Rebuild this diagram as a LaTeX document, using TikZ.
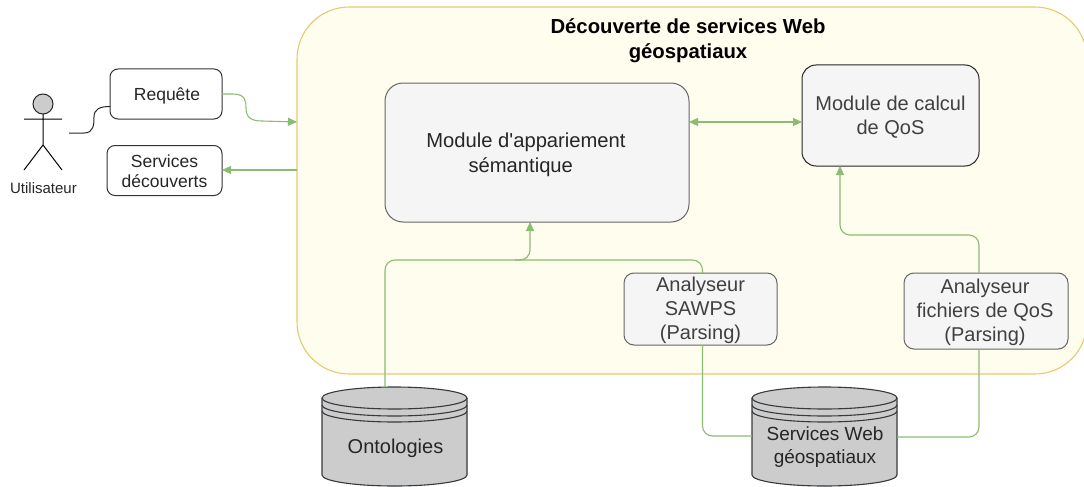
\documentclass[tikz,border=0pt]{standalone}
\usepackage{fontspec}
\setmainfont{Liberation Sans}
\newfontfamily\plainsans{Liberation Sans}
\usetikzlibrary{arrows.meta,calc}
\definecolor{grn}{HTML}{8CBB72}
\definecolor{ylwf}{HTML}{FFFDEE}
\definecolor{ylwd}{HTML}{E8C970}
\definecolor{gryf}{HTML}{F5F5F5}
\definecolor{gryd}{HTML}{666666}
\definecolor{cylf}{HTML}{CCCCCC}
\definecolor{cyld}{HTML}{36393D}
\definecolor{txt}{HTML}{404040}
\newcommand{\fsz}[2]{\fontsize{#1}{#2}\selectfont}
\tikzset{
  every node/.style={inner sep=0pt,outer sep=0pt},
  boxwhite/.style={draw=black!80,line width=1pt,fill=white,rounded corners=8pt,align=center,font=\fsz{17.5}{20},text=black!85},
  boxgray/.style={draw=gryd,line width=1pt,fill=gryf},
  boxtext/.style={align=center,font=\fsz{20}{24},text=txt},
  link/.style={draw=grn,line width=1.1pt,rounded corners=10pt},
  tip/.style={-{Triangle[length=9pt,width=8pt]}},
  tips/.style={{Triangle[length=9pt,width=8pt]}-{Triangle[length=9pt,width=8pt]}},
  cylbody/.style={draw=cyld,line width=1.1pt,fill=cylf},
  cyltext/.style={align=center,text=black!85},
  actorline/.style={draw=black,line width=1pt},
}
\begin{document}
\begin{tikzpicture}[x=1pt,y=-1pt]
\useasboundingbox (0,0) rectangle (1084,487);
% container
\node[draw=ylwd,line width=1.1pt,fill=ylwf,rounded corners=52pt,minimum width=790pt,minimum height=367pt] (disc) at (692,190.5) {};
\node[font=\bfseries\fsz{20.3}{25},align=center,text=black] (title) at (688,41) {Découverte de services Web\\géospatiaux};
% boxes
\node[boxwhite,minimum width=112pt,minimum height=50pt] (req) at (166,94) {};
\node[font=\fsz{17.5}{20},text=black!85] (reqt) at (167,96) {Requête};
\node[boxwhite,minimum width=115pt,minimum height=50pt] (serv) at (164.5,170.5) {};
\node[font=\fsz{17.5}{20},text=black!85,align=center] (servt) at (164.5,171) {Services\\découverts};
\node[boxgray,rounded corners=18pt,minimum width=304pt,minimum height=139pt] (match) at (537,152.5) {};
\node[font=\plainsans\fsz{20.2}{24.5},align=center,text=black!85] (matcht) at (526,155) {Module d'appariement\\sémantique\hspace{10.5pt}\null};
\node[boxgray,draw=black!85,rounded corners=14pt,minimum width=177pt,minimum height=101pt] (qos) at (890.5,115.5) {};
\node[boxtext] (qost) at (890.5,117) {Module de calcul\\de QoS};
\node[boxgray,rounded corners=10pt,minimum width=153pt,minimum height=72pt] (sawps) at (700.5,309) {};
\node[boxtext] (sawpst) at (700.5,310) {Analyseur\\SAWPS\\(Parsing)};
\node[boxgray,rounded corners=10pt,minimum width=164pt,minimum height=76pt] (fqos) at (986,311) {};
\node[boxtext] (fqost) at (985,312) {Analyseur\\fichiers de QoS\\(Parsing)};
% cylinders
\foreach \cx/\nm in {394.5/ont,824.5/sw}{
  \begin{scope}[shift={(\cx,0)}]
    \fill[cylf] (-72.5,398) -- (-72.5,475) arc[start angle=180,end angle=0,x radius=72.5,y radius=11] -- (72.5,398) arc[start angle=360,end angle=180,x radius=72.5,y radius=11] -- cycle;
    \draw[cylbody] (-72.5,398) -- (-72.5,475) arc[start angle=180,end angle=0,x radius=72.5,y radius=11] -- (72.5,398);
    \draw[cylbody] (0,398) ellipse[x radius=72.5,y radius=11];
    \draw[cyld,line width=1.1pt] (-72.5,405) arc[start angle=180,end angle=0,x radius=72.5,y radius=11];
    \draw[cyld,line width=1.1pt] (-72.5,411) arc[start angle=180,end angle=0,x radius=72.5,y radius=11];
  \end{scope}
}
\node[minimum width=145pt,minimum height=99pt] (ontc) at (394.5,436.5) {};
\node[minimum width=145pt,minimum height=99pt] (swc) at (824.5,436.5) {};
\node[cyltext,font=\fsz{20}{23}] (ontt) at (395.5,448) {Ontologies};
\node[cyltext,font=\fsz{19}{23}] (swt) at (825,447) {Services Web\\géospatiaux};
% actor
\node[circle,draw=black!85,line width=1pt,fill=cylf,minimum size=20pt] (head) at (43,104) {};
\coordinate (neck) at (43,145);
\coordinate (larm) at (24,119);
\coordinate (rarm) at (62,119);
\coordinate (lleg) at (24,170);
\coordinate (rleg) at (62,170);
\coordinate (actout) at (69,133);
\draw[actorline] (head.south) -- (neck) (larm) -- (rarm) (lleg) -- (neck) -- (rleg);
\node[font=\fsz{15}{17},text=black!85] (actl) at (43.5,188.5) {Utilisateur};
% connectors
\draw[draw=black!85,line width=1pt] (actout) -- (84,133) .. controls (94,133) and (94,124) .. (94,117) .. controls (94,109) and (100,106.5) .. (req.west |- 0,106.5);
\draw[draw=grn,line width=1.1pt,tip] (req.east |- 0,94) -- (233,94) .. controls (246,94) and (246,102) .. (246,108) .. controls (246,118) and (252,121) .. (262,121) -- (disc.west |- 0,122);
\draw[draw=grn,line width=1.1pt,tip] (disc.west |- 0,170) -- (serv.east |- 0,170);
\draw[draw=grn,line width=1.1pt,tips] (match.east |- 0,122) -- (qos.west |- 0,122);
\draw[link,tip] (ontc.north -| 385,0) -- (385,260) -- (530,260) -- (match.south -| 530,0);
\draw[link] (sawps.north -| 702.5,0) -- (702.5,260) -- (515,260);
\draw[link,tip] (fqos.north -| 979,0) -- (979,235) -- (840,235) -- (qos.south -| 840,0);
\draw[link] (sawps.south -| 702.5,0) -- (702.5,436) -- (swc.west |- 0,436);
\draw[link] (fqos.south -| 979,0) -- (979,437) -- (swc.east |- 0,437);
\end{tikzpicture}
\end{document}
